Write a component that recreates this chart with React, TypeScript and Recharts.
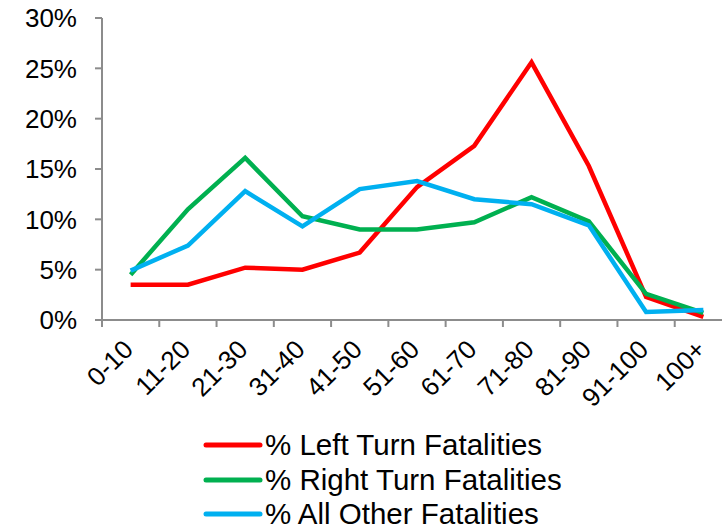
import React from 'react';
import { LineChart, Line, XAxis, YAxis, Legend } from 'recharts';

const categories = ['0-10', '11-20', '21-30', '31-40', '41-50', '51-60', '61-70', '71-80', '81-90', '91-100', '100+'];
const leftTurn = [3.5, 3.5, 5.2, 5.0, 6.7, 13.2, 17.3, 25.6, 15.3, 2.3, 0.3];
const rightTurn = [4.5, 11.0, 16.1, 10.3, 9.0, 9.0, 9.7, 12.2, 9.8, 2.6, 0.7];
const allOther = [4.9, 7.4, 12.8, 9.3, 13.0, 13.8, 12.0, 11.5, 9.4, 0.8, 1.0];
const yTicks = [0, 5, 10, 15, 20, 25, 30];

const seriesNames = ['% Left Turn Fatalities', '% Right Turn Fatalities', '% All Other Fatalities'];
const seriesColors = ['#FF0000', '#00B050', '#00B0F0'];

const data = categories.map((c, i) => ({
  cat: c,
  left: leftTurn[i],
  right: rightTurn[i],
  other: allOther[i],
}));

const FONT = '"Liberation Sans", Arial, sans-serif';
const AXIS_COLOR = '#8C8C8C';
const CHART_W = 740;
const MARGIN = { top: 18, right: 8, bottom: 124, left: 0 };
const Y_W = 102;
const BAND = (CHART_W - MARGIN.right - MARGIN.left - Y_W) / categories.length;

const XTick = (props: any) => {
  const { x, y, payload, index } = props;
  const half = BAND / 2;
  return (
    <g>
      <line x1={x - half} x2={x - half} y1={y} y2={y + 7} stroke={AXIS_COLOR} strokeWidth={2} />
      {index === categories.length - 1 && (
        <line x1={x + half} x2={x + half} y1={y} y2={y + 7} stroke={AXIS_COLOR} strokeWidth={2} />
      )}
      <g transform={`translate(${x + 4},${y + 31})`}>
        <text x={0} y={0} textAnchor="end" transform="rotate(-45)" fontSize={26} fill="#000" fontFamily={FONT}>
          {payload.value}
        </text>
      </g>
    </g>
  );
};

const LegendContent = () => (
  <div style={{ fontFamily: FONT, fontSize: 29.5, color: '#000', lineHeight: '34px' }}>
    {seriesNames.map((n, i) => (
      <div key={n} style={{ display: 'flex', alignItems: 'center', height: 34.5 }}>
        <svg width={60} height={10} style={{ marginRight: 2 }}>
          <line x1={3} x2={57} y1={5} y2={5} stroke={seriesColors[i]} strokeWidth={5} strokeLinecap="round" />
        </svg>
        <span>{n}</span>
      </div>
    ))}
  </div>
);

export default function App() {
  return (
    <div style={{ position: 'absolute', left: 0, top: 0, width: 722, height: 524, overflow: 'hidden', background: '#fff', fontFamily: FONT }}>
      <LineChart width={CHART_W} height={524} data={data} margin={MARGIN}>
        <XAxis
          dataKey="cat"
          interval={0}
          tickLine={false}
          tickSize={0}
          tickMargin={0}
          height={80}
          padding={{ left: BAND / 2, right: BAND / 2 }}
          axisLine={{ stroke: AXIS_COLOR, strokeWidth: 2 }}
          tick={<XTick />}
        />
        <YAxis
          width={Y_W}
          domain={[0, 30]}
          ticks={yTicks}
          interval={0}
          tickFormatter={(v: number) => `${v}%`}
          tickSize={7}
          tickMargin={18}
          axisLine={{ stroke: AXIS_COLOR, strokeWidth: 2 }}
          tickLine={{ stroke: AXIS_COLOR, strokeWidth: 2 }}
          tick={{ fontSize: 26, fill: '#000', fontFamily: FONT }}
        />
        <Legend
          layout="horizontal"
          verticalAlign="middle"
          content={<LegendContent />}
          wrapperStyle={{ position: 'absolute', left: 203, top: 428, width: 460 }}
        />
        <Line dataKey="left" name={seriesNames[0]} stroke={seriesColors[0]} strokeWidth={4.5} dot={false} isAnimationActive={false} strokeLinejoin="miter" />
        <Line dataKey="right" name={seriesNames[1]} stroke={seriesColors[1]} strokeWidth={4.5} dot={false} isAnimationActive={false} strokeLinejoin="miter" />
        <Line dataKey="other" name={seriesNames[2]} stroke={seriesColors[2]} strokeWidth={4.5} dot={false} isAnimationActive={false} strokeLinejoin="miter" />
      </LineChart>
    </div>
  );
}
